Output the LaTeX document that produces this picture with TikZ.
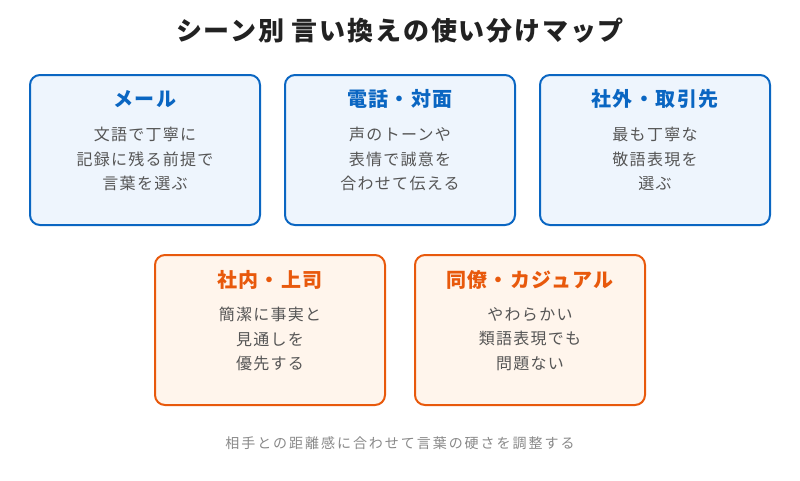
\documentclass[tikz,border=0pt]{standalone}
\usepackage{fontspec}
\setmainfont{Noto Sans CJK JP}
\usepackage{xcolor}
\usepackage{tikz}
\usetikzlibrary{
    positioning,
    calc
}
\definecolor{sceneBlue}{RGB}{10, 102, 194}
\definecolor{sceneBlueFill}{RGB}{238, 245, 253}
\definecolor{sceneOrange}{RGB}{232, 89, 12}
\definecolor{sceneOrangeFill}{RGB}{255, 245, 236}
\definecolor{bodyGray}{RGB}{85, 85, 85}
\definecolor{noteGray}{RGB}{136, 136, 136}
\definecolor{headInk}{RGB}{34, 34, 34}

\begin{document}
\begin{tikzpicture}[x=1pt, y=-1pt,
    card/.style={rounded corners=10pt, line width=2pt, minimum width=230pt, minimum height=150pt},
    blueCard/.style={card, draw=sceneBlue, fill=sceneBlueFill},
    orangeCard/.style={card, draw=sceneOrange, fill=sceneOrangeFill},
    cardTitle/.style={font=\fontsize{20}{25}\bfseries\addfontfeatures{LetterSpace=7}},
    cardBody/.style={align=center, text=bodyGray, font=\fontsize{16}{24.5}\selectfont\addfontfeatures{LetterSpace=8}}
]
            \useasboundingbox (0,0) rectangle (800,480);
            
            % Heading
            \node[text=headInk, font=\fontsize{26}{30}\bfseries\addfontfeatures{LetterSpace=7}] (heading) at (400,31) {シーン別 言い換えの使い分けマップ};
            
            % Top row: outside-facing scenes
            \node[blueCard] (mail) at (145,150) {};
            \node[cardTitle, text=sceneBlue] (mailT) at (145,99) {メール};
            \node[cardBody] (mailB) at (145,159) {文語で丁寧に\\記録に残る前提で\\言葉を選ぶ};
            
            \node[blueCard] (phone) at (400,150) {};
            \node[cardTitle, text=sceneBlue] (phoneT) at (400,99) {電話・対面};
            \node[cardBody] (phoneB) at (400,159) {声のトーンや\\表情で誠意を\\合わせて伝える};
            
            \node[blueCard] (client) at (655,150) {};
            \node[cardTitle, text=sceneBlue] (clientT) at (655,99) {社外・取引先};
            \node[cardBody] (clientB) at (655,159) {最も丁寧な\\敬語表現を\\選ぶ};
            
            % Bottom row: inside scenes
            \node[orangeCard] (boss) at (270,330) {};
            \node[cardTitle, text=sceneOrange] (bossT) at (270,280) {社内・上司};
            \node[cardBody] (bossB) at (270,339) {簡潔に事実と\\見通しを\\優先する};
            
            \node[orangeCard] (peer) at (530,330) {};
            \node[cardTitle, text=sceneOrange] (peerT) at (530,280) {同僚・カジュアル};
            \node[cardBody] (peerB) at (530,339) {やわらかい\\類語表現でも\\問題ない};
            
            % Footnote
            \node[text=noteGray, font=\fontsize{14}{17}\selectfont\addfontfeatures{LetterSpace=14}] (note) at (400,443) {相手との距離感に合わせて言葉の硬さを調整する};
        \end{tikzpicture}
\end{document}
